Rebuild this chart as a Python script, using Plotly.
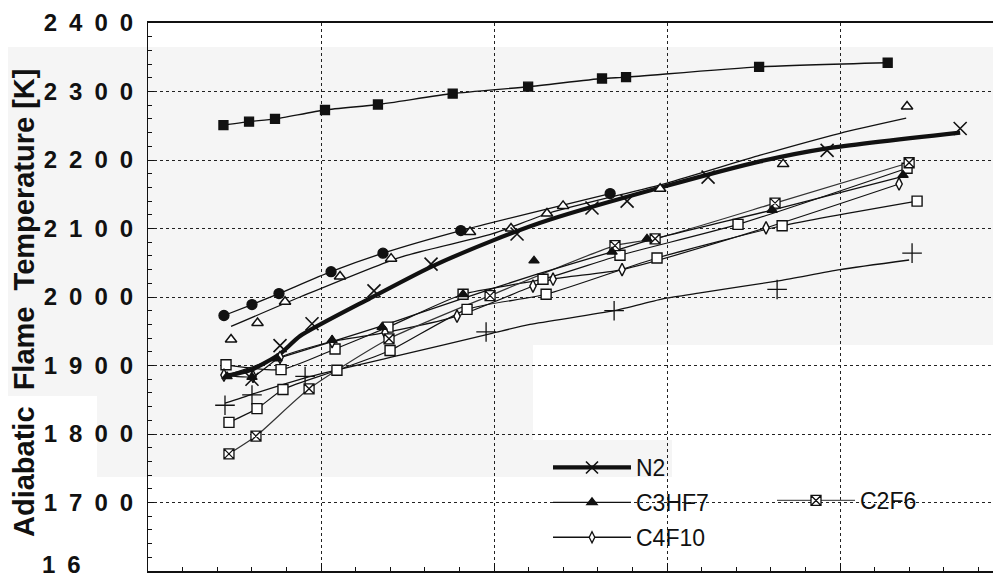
import plotly.graph_objects as go

# ---------------- data (x in grid units, y in K) ----------------
# top series, filled squares
sq_fill_x = [0.436, 0.584, 0.734, 1.023, 1.329, 1.761, 2.197, 2.624, 2.763, 3.532, 4.275]
sq_fill_y = [2251, 2256, 2260, 2273, 2281, 2297, 2307, 2319, 2321, 2336, 2342]

# filled circles
circ_x = [0.439, 0.601, 0.757, 1.058, 1.358, 1.808, 2.671]
circ_y = [1973, 1989, 2005, 2037, 2064, 2097, 2151]

# open triangles (points) and their fitted curve
tri_x = [0.480, 0.633, 0.792, 1.110, 1.405, 1.861, 2.098, 2.306, 2.399, 2.960, 3.671, 4.387]
tri_y = [1938, 1962, 1993, 2030, 2056, 2095, 2100, 2122, 2133, 2158, 2194, 2278]
tri_fit_x = [0.480, 0.879, 1.457, 1.988, 2.324, 2.994, 3.538, 4.000, 4.382]
tri_fit_y = [1957, 2000, 2058, 2092, 2123, 2166, 2207, 2239, 2261]

# N2
n2_x = [0.601, 0.763, 0.948, 1.306, 1.636, 2.133, 2.566, 2.769, 3.237, 3.925, 4.694]
n2_y = [1880, 1929, 1961, 2009, 2048, 2092, 2130, 2140, 2175, 2214, 2246]
n2_fit_x = [0.434, 0.590, 0.763, 0.879, 1.283, 1.636, 1.988, 2.324, 2.994, 3.538, 3.925, 4.694]
n2_fit_y = [1884, 1893, 1917, 1943, 1998, 2044, 2082, 2113, 2162, 2198, 2217, 2240]

# C3HF7
c3_x = [0.457, 0.601, 0.746, 1.064, 1.353, 1.821, 2.231, 2.682, 2.884, 3.607, 4.364]
c3_y = [1884, 1883, 1910, 1937, 1956, 2004, 2053, 2066, 2085, 2127, 2178]
c3_fit_x = [0.457, 0.746, 1.064, 1.353, 1.821, 2.231, 2.682, 2.884, 3.607, 4.364]
c3_fit_y = [1886, 1910, 1935, 1958, 1998, 2032, 2066, 2082, 2127, 2176]

# C2F6
c2_x = [0.468, 0.624, 0.931, 1.393, 1.977, 2.699, 2.931, 3.624, 4.399]
c2_y = [1771, 1797, 1866, 1939, 2002, 2075, 2085, 2137, 2196]

# C4F10
c4_x = [0.439, 0.607, 0.763, 1.064, 1.370, 1.786, 2.225, 2.341, 2.740, 3.572, 4.341]
c4_y = [1886, 1884, 1912, 1935, 1948, 1972, 2016, 2026, 2040, 2101, 2165]

# open squares, upper and lower
osq1_x = [0.451, 0.769, 1.081, 1.387, 1.821, 2.283, 2.728, 3.410, 4.387]
osq1_y = [1901, 1894, 1924, 1956, 2004, 2026, 2061, 2106, 2188]
osq2_x = [0.468, 0.630, 0.780, 1.092, 1.399, 1.844, 2.301, 2.942, 3.665, 4.445]
osq2_y = [1817, 1837, 1865, 1893, 1922, 1982, 2004, 2057, 2104, 2140]

# plus signs and fitted curve
plus_x = [0.445, 0.601, 0.908, 1.954, 2.694, 3.636, 4.416]
plus_y = [1842, 1857, 1884, 1949, 1980, 2011, 2064]
plus_fit_x = [0.445, 0.601, 0.908, 1.457, 1.988, 2.208, 2.694, 2.988, 3.191, 3.653, 4.000, 4.399]
plus_fit_y = [1845, 1858, 1882, 1915, 1947, 1960, 1980, 1998, 2006, 2024, 2040, 2054]

y_ticks = [1600, 1700, 1800, 1900, 2000, 2100, 2200, 2300, 2400]
y_tick_labels = ["", "1700", "1800", "1900", "2000", "2100", "2200", "2300", "2400"]
bottom_label = "16"          # cut-off label shown at the very bottom of the scan
x_grid = [0, 1, 2, 3, 4]

# ---------------- figure ----------------
OFF = 8                      # default page margin around the plot div
W, H = 1001 - OFF, 581 - OFF
ML, MR, MT, MB = 148 - OFF, 0, 23 - OFF, 10
BLACK = "#111111"
GRAY_BG = "#f5f5f5"
FONT = "Liberation Sans"

fig = go.Figure()

def line_tr(x, y, width=1.3, color=BLACK, shape="spline"):
    fig.add_trace(go.Scatter(x=x, y=y, mode="lines", showlegend=False, hoverinfo="skip",
                             line=dict(color=color, width=width, shape=shape, smoothing=0.6)))

def mark_tr(x, y, symbol, size, color=BLACK, lw=1.3, fill=None):
    fig.add_trace(go.Scatter(x=x, y=y, mode="markers", showlegend=False,
                             marker=dict(symbol=symbol, size=size,
                                         color=fill if fill else color,
                                         line=dict(color=color, width=lw))))

# lines
line_tr(sq_fill_x, sq_fill_y, 1.4)
line_tr(circ_x, circ_y, 1.3)
line_tr(tri_fit_x, tri_fit_y, 1.3)
line_tr(plus_fit_x, plus_fit_y, 1.3)
line_tr(osq2_x, osq2_y, 1.2)
line_tr(osq1_x, osq1_y, 1.2)
line_tr(c4_x, c4_y, 1.2)
line_tr(c2_x, c2_y, 1.2, "#333333")
line_tr(c3_fit_x, c3_fit_y, 1.3)
line_tr(n2_fit_x, n2_fit_y, 4.2)

# markers
mark_tr(sq_fill_x, sq_fill_y, "square", 9)
mark_tr(circ_x, circ_y, "circle", 10)
mark_tr(tri_x, tri_y, "triangle-up", 10, fill="white", lw=1.5)
mark_tr(plus_x, plus_y, "cross-thin-open", 14, lw=1.3)
mark_tr(osq2_x, osq2_y, "square", 10, fill="white", lw=1.4)
mark_tr(osq1_x, osq1_y, "square", 10, fill="white", lw=1.4)
mark_tr(c4_x, c4_y, "diamond-tall", 9, fill="white", lw=1.4)
mark_tr(c2_x, c2_y, "square-x", 10, fill="white", lw=1.3)
mark_tr(c3_x, c3_y, "triangle-up", 9)
mark_tr(n2_x, n2_y, "x-thin-open", 13, lw=1.6)

# legend entries
def legend_entry(name, symbol, size, lw, legend="legend", fill=None, mlw=1.3, color=BLACK):
    fig.add_trace(go.Scatter(x=[None], y=[None], mode="lines+markers", name=name,
                             legend=legend, legendgroup=name,
                             line=dict(color=color, width=lw),
                             marker=dict(symbol=symbol, size=size,
                                         color=fill if fill else BLACK,
                                         line=dict(color=BLACK, width=mlw))))

legend_entry("N2", "x-thin-open", 12, 4.2, mlw=1.6)
legend_entry("C3HF7", "triangle-up", 9, 1.3)
legend_entry("C4F10", "diamond-tall", 8, 1.3, fill="white")
legend_entry("C2F6", "square-x", 10, 1.2, legend="legend2", fill="white", color="#555555")

# window-pixel -> paper helpers for the scan-like background patches
def px_x(p):
    return (p - OFF - ML) / (W - ML - MR)

def px_y(p):
    return (H - MB - (p - OFF)) / (H - MT - MB)

shapes = [
    dict(type="rect", xref="paper", yref="paper", layer="below", line_width=0, fillcolor="white",
         x0=0, x1=1, y0=px_y(47), y1=1),
    dict(type="rect", xref="paper", yref="paper", layer="below", line_width=0, fillcolor="white",
         x0=0, x1=1, y0=0, y1=px_y(477)),
    dict(type="rect", xref="paper", yref="paper", layer="between", line_width=0, fillcolor="white",
         x0=px_x(533), x1=1, y0=0, y1=px_y(345)),
    dict(type="rect", xref="paper", yref="paper", layer="between", line_width=0, fillcolor=GRAY_BG,
         x0=px_x(533), x1=px_x(672), y0=px_y(477), y1=px_y(440)),
    dict(type="rect", xref="paper", yref="paper", layer="below", line_width=0, fillcolor=GRAY_BG,
         x0=px_x(OFF), x1=0, y0=px_y(396), y1=px_y(47)),
    dict(type="rect", xref="paper", yref="paper", layer="below", line_width=0, fillcolor=GRAY_BG,
         x0=px_x(97), x1=0, y0=px_y(477), y1=px_y(396)),
]

spaced = ["\u2002".join(list(t)) for t in y_tick_labels]

fig.update_layout(
    width=W, height=H,
    margin=dict(l=ML, r=MR, t=MT, b=MB, pad=0, autoexpand=False),
    paper_bgcolor="white",
    plot_bgcolor=GRAY_BG,
    shapes=shapes,
    font=dict(family=FONT, color=BLACK),
    xaxis=dict(range=[0, 4.93], tickvals=x_grid, showticklabels=False, automargin=False,
               showgrid=True, gridcolor="#222222", griddash="dot", gridwidth=1,
               zeroline=False, showline=True, linecolor=BLACK, linewidth=1.6, mirror=True,
               ticks="inside", ticklen=8, tickcolor=BLACK,
               minor=dict(dtick=0.2, ticks="inside", ticklen=4, tickcolor=BLACK, showgrid=False)),
    yaxis=dict(range=[1600, 2400], tickvals=y_ticks, ticktext=spaced, automargin=False,
               tickfont=dict(family=FONT, size=24, weight="bold", color=BLACK),
               showgrid=True, gridcolor="#222222", griddash="dot", gridwidth=1,
               zeroline=False, showline=True, linecolor=BLACK, linewidth=1.2,
               ticks="inside", ticklen=6, tickcolor=BLACK, ticklabelstandoff=9,
               minor=dict(dtick=20, ticks="inside", ticklen=4, tickcolor=BLACK, showgrid=False)),
    legend=dict(x=px_x(548), y=px_y(446), xanchor="left", yanchor="top",
                bgcolor="rgba(0,0,0,0)", font=dict(family=FONT, size=23, color=BLACK),
                itemwidth=78, tracegroupgap=2, traceorder="grouped"),
    legend2=dict(x=px_x(772), y=px_y(479), xanchor="left", yanchor="top",
                 bgcolor="rgba(0,0,0,0)", font=dict(family=FONT, size=23, color=BLACK),
                 itemwidth=78),
    annotations=[
        dict(text="Adiabatic  Flame  Temperature [K]", xref="paper", yref="paper",
             x=px_x(24), y=px_y(303), xanchor="center", yanchor="middle",
             textangle=-90, showarrow=False,
             font=dict(family=FONT, size=29, weight="bold", color=BLACK)),
        dict(text="\u2002".join(list(bottom_label)), xref="paper", yref="paper",
             x=px_x(40), y=px_y(564), xanchor="left", yanchor="middle", showarrow=False,
             font=dict(family=FONT, size=24, weight="bold", color=BLACK)),
    ],
)

fig.write_html("out.html")
